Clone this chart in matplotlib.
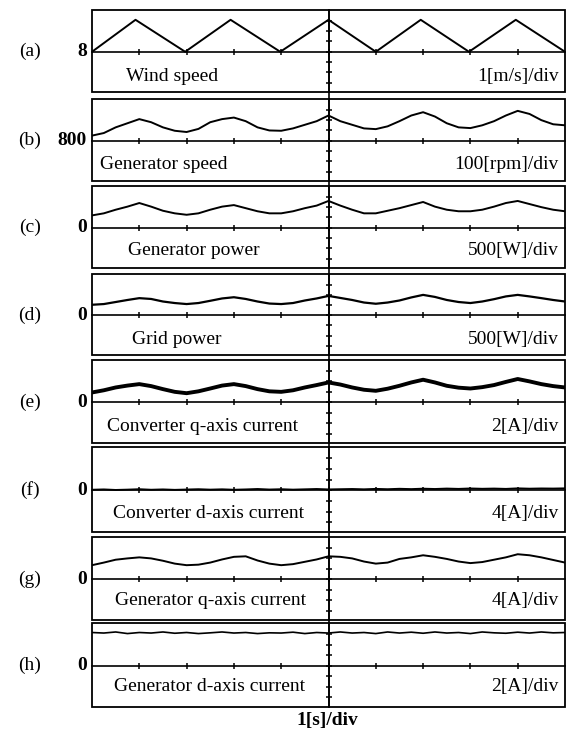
import numpy as np
import matplotlib.pyplot as plt
from matplotlib.patches import Rectangle
from matplotlib.lines import Line2D

plt.rcParams['font.family'] = ['Liberation Serif', 'DejaVu Serif']

# sample times [s], 0.25 s apart
t = np.linspace(0, 10, 41)

# (a) wind speed, corners of the triangle profile
wind_t = [0, 0.92, 1.97, 2.93, 3.98, 5.0, 6.0, 6.95, 7.97, 8.96, 10.0]
wind = [8.0, 11.1, 8.0, 11.1, 8.0, 11.1, 8.0, 11.1, 8.0, 11.1, 8.0]

# (b) generator speed [rpm]
gen_speed = [850, 875, 930, 970, 1010, 980, 930, 897, 885, 915, 980, 1010, 1025, 990,
             930, 900, 897, 920, 955, 990, 1045, 990, 955, 920, 913, 940, 990, 1045,
             1077, 1035, 970, 930, 923, 950, 990, 1045, 1090, 1060, 1000, 960, 950]

# (c) generator power [W]
gen_power = [600, 700, 875, 1025, 1200, 1025, 825, 700, 630, 700, 875, 1025, 1100, 950,
             800, 700, 700, 800, 950, 1075, 1300, 1075, 875, 700, 700, 825, 950, 1100,
             1250, 1025, 875, 800, 800, 875, 1025, 1200, 1300, 1150, 1000, 875, 800]

# (d) grid power [W]
grid_power = [515, 550, 650, 750, 840, 800, 675, 600, 550, 600, 710, 825, 885, 800,
              675, 575, 550, 600, 725, 825, 950, 850, 750, 625, 565, 625, 725, 875,
              1000, 900, 750, 650, 600, 675, 790, 925, 1000, 925, 840, 750, 675]

# (e) converter q-axis current [A]
conv_iq = [1.88, 2.3, 2.84, 3.2, 3.48, 3.1, 2.52, 2.0, 1.74, 2.1, 2.64, 3.2, 3.48, 3.1,
           2.52, 2.1, 2.0, 2.3, 2.84, 3.3, 3.8, 3.4, 2.84, 2.4, 2.2, 2.6, 3.16, 3.8,
           4.32, 3.8, 3.16, 2.8, 2.64, 2.9, 3.3, 3.9, 4.46, 4.0, 3.48, 3.1, 2.84]

# (f) converter d-axis current [A]
conv_id = [0.2, 0.32, 0.12, 0.24, 0.4, 0.2, 0.32, 0.16, 0.28, 0.4, 0.24, 0.36, 0.2, 0.32,
           0.48, 0.28, 0.4, 0.24, 0.36, 0.48, 0.32, 0.4, 0.48, 0.36, 0.52, 0.4, 0.56, 0.44,
           0.6, 0.48, 0.64, 0.52, 0.68, 0.56, 0.64, 0.52, 0.72, 0.6, 0.68, 0.64, 0.72]

# (g) generator q-axis current [A]
gen_iq = [5.4, 6.4, 7.5, 8.0, 8.4, 8.0, 7.1, 6.0, 5.4, 5.6, 6.4, 7.6, 8.6, 8.8,
          7.2, 6.0, 5.4, 5.8, 6.7, 7.6, 8.8, 8.6, 8.0, 6.8, 6.0, 6.4, 7.8, 8.4,
          9.2, 8.6, 7.8, 6.8, 6.2, 6.6, 7.5, 8.4, 9.6, 9.2, 8.4, 7.4, 6.4]

# (h) generator d-axis current [A]
gen_id = [6.3, 6.2, 6.4, 6.1, 6.3, 6.2, 6.4, 6.16, 6.3, 6.1, 6.24, 6.4, 6.2, 6.3,
          6.1, 6.24, 6.2, 6.36, 6.1, 6.3, 6.2, 6.4, 6.2, 6.3, 6.1, 6.4, 6.2, 6.36,
          6.16, 6.4, 6.2, 6.3, 6.1, 6.4, 6.24, 6.16, 6.36, 6.2, 6.4, 6.24, 6.3]

tags = ['(a)', '(b)', '(c)', '(d)', '(e)', '(f)', '(g)', '(h)']
zero_labels = ['8', '800', '0', '0', '0', '0', '0', '0']
names = ['Wind speed', 'Generator speed', 'Generator power', 'Grid power',
         'Converter q-axis current', 'Converter d-axis current',
         'Generator q-axis current', 'Generator d-axis current']
scales = ['1[m/s]/div', '100[rpm]/div', '500[W]/div', '500[W]/div',
          '2[A]/div', '4[A]/div', '4[A]/div', '2[A]/div']
per_div = [1, 100, 500, 500, 2, 4, 4, 2]
offsets = [8, 800, 0, 0, 0, 0, 0, 0]
series_t = [wind_t, t, t, t, t, t, t, t]
series = [wind, gen_speed, gen_power, grid_power, conv_iq, conv_id, gen_iq, gen_id]

# layout in pixels
W, H = 574, 733
x0, x1 = 92, 565
panel_px = [(10, 92), (99, 181), (186, 268), (274, 355),
            (360, 443), (447, 532), (537, 620), (623, 707)]
name_x = [0.72, 0.17, 0.76, 0.85, 0.32, 0.44, 0.49, 0.47]
text_y = [-2.4, -2.3, -2.2, -2.35, -2.3, -2.2, -2.0, -2.0]
line_w = [1.4, 1.4, 1.4, 1.6, 2.8, 1.4, 1.4, 1.2]
fs = 14

fig = plt.figure(figsize=(W / 100, H / 100), dpi=100)

for i in range(8):
    top, bot = panel_px[i]
    ax = fig.add_axes([x0 / W, 1 - bot / H, (x1 - x0) / W, (bot - top) / H])
    ax.set_xlim(0, 10)
    ax.set_ylim(-3.9, 4.05)
    y = (np.array(series[i], dtype=float) - offsets[i]) / per_div[i]
    ax.plot(series_t[i], y, color='black', lw=line_w[i], solid_joinstyle='round')

    ax.spines['top'].set_visible(False)
    ax.spines['right'].set_visible(False)
    ax.spines['left'].set_position(('data', 5))
    ax.spines['bottom'].set_position(('data', 0))
    ax.spines['bottom'].set_linewidth(1.2)
    ax.spines['left'].set_linewidth(1.2)
    ax.set_xticks(range(1, 10))
    ax.set_yticks(range(-3, 4))
    ax.tick_params(direction='inout', length=5, width=1.1, labelleft=False, labelbottom=False)
    ax.add_patch(Rectangle((0, 0), 1, 1, transform=ax.transAxes, fill=False,
                           lw=1.3, ec='black', clip_on=False, zorder=5))

    yt = ax.get_yaxis_transform()
    ax.text(-0.131, 0, tags[i], transform=yt, ha='center', va='center', fontsize=fs)
    ax.text(-0.011, 0, zero_labels[i], transform=yt, ha='right', va='center',
            fontsize=fs, fontweight='bold')
    ax.text(name_x[i], text_y[i], names[i], ha='left', va='center', fontsize=fs)
    ax.text(9.87, text_y[i], scales[i], ha='right', va='center', fontsize=fs)

# center time line running through every panel
xc = (x0 + x1) / 2 / W
fig.add_artist(Line2D([xc, xc], [1 - 10 / H, 1 - 707 / H], color='black', lw=1.2))

fig.text(327 / W, 1 - 721 / H, '1[s]/div', ha='center', va='center',
         fontsize=fs, fontweight='bold')

plt.savefig('out.png', dpi=100)
